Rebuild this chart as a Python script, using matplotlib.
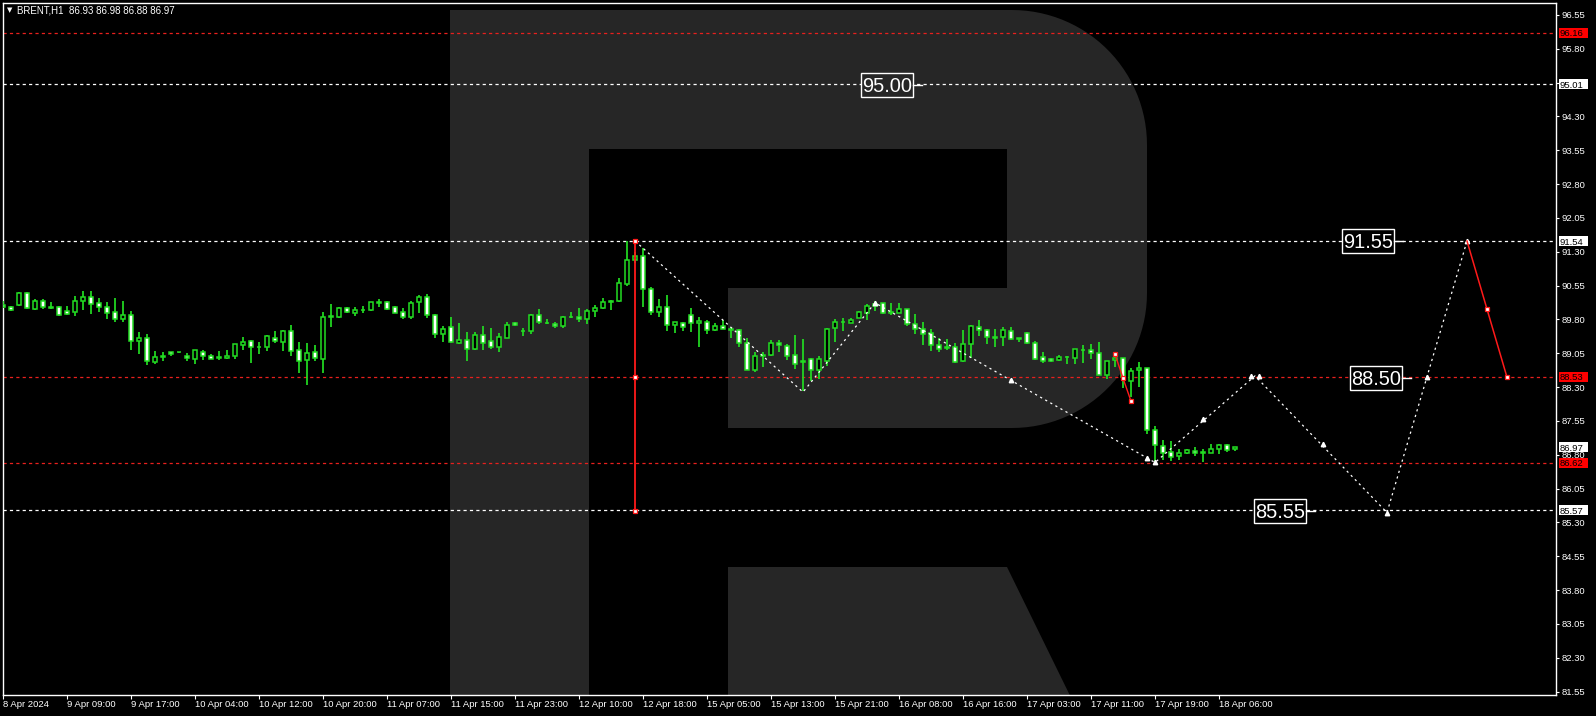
import numpy as np
import matplotlib
matplotlib.use('Agg')
import matplotlib.pyplot as plt
from matplotlib.patches import Rectangle, Polygon
from matplotlib.transforms import blended_transform_factory

plt.rcParams['font.family'] = ['Liberation Sans', 'DejaVu Sans']
plt.rcParams['lines.scale_dashes'] = False

# ---------------- data ----------------
title_symbol = "BRENT,H1"
title_ohlc = "86.93 86.98 86.88 86.97"

opens = [90.12, 90.07, 90.12, 90.38, 90.03, 90.20, 90.07, 90.07, 89.98, 89.97,
         90.22, 90.29, 90.16, 90.07, 89.96, 89.80, 89.89, 89.33, 89.40, 88.86,
         88.96, 89.07, 89.07, 89.00, 88.93, 89.09, 88.98, 88.96, 88.95, 88.98,
         89.24, 89.32, 89.20, 89.18, 89.40, 89.31, 89.54, 89.12, 88.90, 89.08,
         88.93, 89.86, 89.86, 90.05, 89.94, 90.01, 90.00, 90.18, 90.18, 90.07,
         89.97, 89.86, 90.18, 90.29, 89.91, 89.47, 89.63, 89.29, 89.34, 89.15,
         89.45, 89.32, 89.20, 89.40, 89.72, 89.54, 89.54, 89.91, 89.73, 89.69,
         89.66, 89.85, 89.86, 89.80, 89.98, 90.06, 90.19, 90.20, 90.59, 91.11,
         91.21, 90.47, 89.96, 90.07, 89.67, 89.72, 89.89, 89.72, 89.74, 89.56,
         89.65, 89.60, 89.56, 89.29, 88.69, 89.00, 89.01, 89.27, 89.21, 89.01,
         88.85, 88.92, 88.67, 88.89, 89.62, 89.74, 89.73, 89.84, 89.95, 90.10,
         90.16, 89.96, 89.95, 90.03, 89.69, 89.60, 89.49, 89.23, 89.18, 89.18,
         88.87, 89.25, 89.63, 89.56, 89.40, 89.41, 89.54, 89.37, 89.49, 89.27,
         88.96, 88.92, 88.91, 88.96, 88.95, 89.12, 89.12, 89.05, 88.58, 88.90,
         88.94, 88.44, 88.67, 88.72, 87.36, 87.00, 86.86, 86.77, 86.85, 86.88,
         86.85, 86.84, 86.94, 87.01, 86.93]
highs = [90.22, 90.10, 90.40, 90.40, 90.25, 90.25, 90.19, 90.10, 90.10, 90.32,
         90.43, 90.43, 90.28, 90.18, 90.28, 90.21, 89.98, 89.52, 89.47, 89.10,
         89.08, 89.08, 89.08, 89.05, 89.13, 89.12, 89.03, 89.10, 89.12, 89.26,
         89.41, 89.35, 89.30, 89.46, 89.54, 89.57, 89.68, 89.30, 89.28, 89.23,
         89.97, 90.14, 90.07, 90.08, 90.07, 90.10, 90.19, 90.25, 90.21, 90.11,
         90.05, 90.20, 90.35, 90.37, 89.92, 89.66, 89.86, 89.72, 89.52, 89.52,
         89.66, 89.61, 89.49, 89.75, 89.75, 89.62, 89.93, 90.03, 89.82, 89.75,
         89.88, 89.97, 90.05, 90.03, 90.12, 90.27, 90.24, 90.72, 91.54, 91.30,
         91.39, 90.51, 90.25, 90.34, 89.75, 89.75, 90.06, 89.86, 89.79, 89.72,
         89.79, 89.64, 89.58, 89.38, 89.07, 89.09, 89.35, 89.34, 89.26, 89.46,
         89.37, 88.95, 88.99, 89.61, 89.82, 89.83, 89.83, 89.99, 90.14, 90.20,
         90.17, 90.16, 90.16, 90.04, 89.92, 89.75, 89.58, 89.38, 89.36, 89.29,
         89.57, 89.67, 89.78, 89.59, 89.60, 89.63, 89.63, 89.40, 89.53, 89.33,
         89.08, 88.95, 89.01, 89.00, 89.15, 89.24, 89.25, 89.30, 88.88, 88.99,
         88.95, 88.72, 88.86, 88.73, 87.45, 87.13, 87.11, 86.94, 86.92, 86.97,
         86.94, 87.03, 87.04, 87.04, 86.98]
lows = [90.05, 89.98, 90.11, 90.03, 90.01, 90.04, 90.03, 89.88, 89.91, 89.88,
        90.00, 89.93, 89.97, 89.80, 89.75, 89.75, 89.12, 89.04, 88.80, 88.82,
        88.88, 89.00, 89.06, 88.89, 88.82, 88.90, 88.92, 88.90, 88.93, 88.93,
        89.12, 88.84, 89.04, 89.10, 89.29, 89.10, 88.98, 88.62, 88.35, 88.89,
        88.62, 89.64, 89.84, 89.95, 89.88, 89.94, 89.99, 90.08, 90.00, 89.94,
        89.80, 89.82, 89.95, 89.84, 89.38, 89.31, 89.29, 89.26, 88.87, 89.12,
        89.13, 89.15, 89.09, 89.38, 89.66, 89.44, 89.47, 89.71, 89.69, 89.62,
        89.62, 89.84, 89.75, 89.71, 89.86, 90.04, 90.01, 90.19, 90.55, 91.05,
        90.08, 89.91, 89.86, 89.55, 89.49, 89.55, 89.53, 89.18, 89.47, 89.54,
        89.58, 89.38, 89.18, 88.67, 88.64, 88.75, 89.00, 89.09, 88.90, 88.70,
        88.21, 88.43, 88.47, 88.77, 89.30, 89.55, 89.72, 89.83, 89.79, 89.99,
        89.92, 89.91, 89.94, 89.65, 89.48, 89.24, 89.11, 89.08, 89.13, 88.84,
        88.86, 88.95, 89.44, 89.26, 89.18, 89.22, 89.34, 89.31, 89.25, 88.90,
        88.84, 88.85, 88.87, 88.82, 88.81, 88.84, 88.92, 88.56, 88.48, 88.75,
        88.29, 88.09, 88.31, 87.27, 86.65, 86.69, 86.66, 86.69, 86.82, 86.78,
        86.64, 86.83, 86.82, 86.87, 86.88]
closes = [90.07, 90.00, 90.38, 90.06, 90.20, 90.07, 90.06, 89.91, 89.93, 90.20,
          90.29, 90.15, 90.07, 89.95, 89.80, 89.89, 89.33, 89.38, 88.87, 88.96,
          89.00, 89.03, 89.07, 88.94, 89.12, 88.98, 88.93, 88.94, 88.98, 89.25,
          89.30, 89.18, 89.19, 89.43, 89.33, 89.54, 89.11, 88.89, 89.05, 88.95,
          89.86, 89.88, 90.05, 89.97, 90.01, 90.02, 90.18, 90.17, 90.04, 89.95,
          89.85, 90.17, 90.29, 89.89, 89.47, 89.60, 89.31, 89.34, 89.14, 89.45,
          89.29, 89.20, 89.41, 89.67, 89.67, 89.55, 89.91, 89.74, 89.72, 89.65,
          89.85, 89.86, 89.80, 89.99, 90.06, 90.18, 90.20, 90.60, 91.11, 91.21,
          90.47, 89.96, 90.07, 89.67, 89.74, 89.63, 89.72, 89.77, 89.56, 89.65,
          89.60, 89.56, 89.29, 88.69, 88.98, 89.01, 89.29, 89.23, 88.98, 88.82,
          88.89, 88.67, 88.92, 89.60, 89.74, 89.75, 89.79, 89.97, 90.09, 90.14,
          89.94, 89.95, 90.03, 89.69, 89.58, 89.47, 89.23, 89.14, 89.17, 88.85,
          89.25, 89.65, 89.56, 89.41, 89.41, 89.56, 89.36, 89.38, 89.27, 88.93,
          88.87, 88.87, 88.97, 88.97, 89.14, 89.13, 89.05, 88.58, 88.87, 88.95,
          88.53, 88.66, 88.72, 87.36, 87.01, 86.85, 86.76, 86.83, 86.90, 86.83,
          86.86, 86.94, 87.01, 86.91, 86.97]

xtick_pos = [0, 8, 16, 24, 32, 40, 48, 56, 64, 72, 80, 88, 96, 104, 112, 120, 128, 136, 144, 152]
xtick_labels = ["8 Apr 2024", "9 Apr 09:00", "9 Apr 17:00", "10 Apr 04:00", "10 Apr 12:00",
                "10 Apr 20:00", "11 Apr 07:00", "11 Apr 15:00", "11 Apr 23:00", "12 Apr 10:00",
                "12 Apr 18:00", "15 Apr 05:00", "15 Apr 13:00", "15 Apr 21:00", "16 Apr 08:00",
                "16 Apr 16:00", "17 Apr 03:00", "17 Apr 11:00", "17 Apr 19:00", "18 Apr 06:00"]
ytick_values = [81.55, 82.30, 83.05, 83.80, 84.55, 85.30, 86.05, 86.80, 87.55, 88.30, 89.05,
                89.80, 90.55, 91.30, 92.05, 92.80, 93.55, 94.30, 95.05, 95.80, 96.55]

hline_prices = [96.16, 95.01, 91.54, 88.53, 86.62, 85.57]
hline_colors = ['#e8201e', 'white', 'white', '#e8201e', '#e8201e', 'white']

axis_box_prices = [96.16, 95.01, 91.54, 88.53, 86.97, 86.62, 85.57]
axis_box_colors = ['#ff0000', 'white', 'white', '#ff0000', 'white', '#ff0000', 'white']

forecast_x = [79, 100, 109, 144, 156.5, 173, 183]
forecast_y = [91.54, 88.19, 90.17, 86.63, 88.55, 85.52, 91.54]
forecast_mark_x = [109, 126, 143, 144, 150, 156, 157, 165, 173, 178, 183]
forecast_mark_y = [90.17, 88.46, 86.72, 86.63, 87.59, 88.55, 88.55, 87.03, 85.52, 88.52, 91.54]
red_fore_x = [183, 185.5, 188]
red_fore_y = [91.54, 90.03, 88.52]
red_mini_x = [139, 140, 141]
red_mini_y = [89.03, 88.50, 87.99]
red_vert_x = [79, 79, 79]
red_vert_y = [91.54, 88.53, 85.55]

label_texts = ['95.00', '91.55', '88.50', '85.55']
label_x = [110.5, 170.6, 171.6, 159.6]
label_y = [95.00, 91.54, 88.50, 85.55]
label_bg = ['#262626', 'black', 'black', 'black']

# ---------------- figure ----------------
W, H = 1596, 716
fig = plt.figure(figsize=(W / 100, H / 100), dpi=100, facecolor='black')
ax = fig.add_axes([3 / W, (H - 695) / H, 1553 / W, 692 / H])
ax.set_facecolor('black')
ax.set_xlim(0, 1553 / 8)
ax.set_ylim(81.476, 96.816)

GREEN = '#22dd22'
LOGO = '#262626'


def fp(x, y):
    return (x / W, 1 - y / H)


# logo watermark (figure pixel geometry)
r = 135
x0, y0, x1, y1 = 450, 10, 1147, 428
pts = [(x0, y0), (x1 - r, y0)]
for t in np.linspace(np.pi / 2, 0, 30):
    pts.append((x1 - r + r * np.cos(t), y0 + r - r * np.sin(t)))
pts.append((x1, y1 - r))
for t in np.linspace(0, -np.pi / 2, 30):
    pts.append((x1 - r + r * np.cos(t), y1 - r - r * np.sin(t)))
pts.append((x0, y1))
ax.add_patch(Polygon([fp(*p) for p in pts], closed=True, fc=LOGO, ec='none',
                     transform=fig.transFigure, zorder=0.5))
for (a, b, c, d) in [(589, 149, 1007, 288), (589, 287, 728, 429)]:
    ax.add_patch(Polygon([fp(a, b), fp(c, b), fp(c, d), fp(a, d)], closed=True,
                         fc='black', ec='none', transform=fig.transFigure, zorder=0.6))
ax.add_patch(Polygon([fp(450, 10), fp(589, 10), fp(589, 716), fp(450, 716)], closed=True,
                     fc=LOGO, ec='none', transform=fig.transFigure, zorder=0.7))
ax.add_patch(Polygon([fp(728, 567), fp(1007, 567), fp(1080, 716), fp(728, 716)], closed=True,
                     fc=LOGO, ec='none', transform=fig.transFigure, zorder=0.7))

# horizontal levels
for p, c in zip(hline_prices, hline_colors):
    ax.axhline(p, color=c, lw=0.9, ls=(0, (2.3, 2.3)), zorder=1)

# candles
O = np.array(opens); Hh = np.array(highs); L = np.array(lows); C = np.array(closes)
x = np.arange(len(O))
ax.vlines(x, L, Hh, color=GREEN, lw=1.25, zorder=3)
bottom = np.minimum(O, C)
height = np.maximum(np.abs(C - O), 0.004)
face = ['black' if c >= o else 'white' for o, c in zip(O, C)]
ax.bar(x, height, bottom=bottom, width=0.58, color=face, edgecolor=GREEN, linewidth=1.1, zorder=4)

# forecast zigzag
ax.plot(forecast_x, forecast_y, color='white', lw=0.9, ls=(0, (1.6, 2.6)), zorder=5)
ax.plot(forecast_mark_x, forecast_mark_y, ls='none', marker='^', ms=3.2, color='white',
        mec='white', zorder=5)
ax.plot(red_fore_x, red_fore_y, color='#ff1a1a', lw=1.1, zorder=5)
ax.plot(red_fore_x[1:], red_fore_y[1:], ls='none', marker='s', ms=3.0, mfc='white',
        mec='#ff1a1a', mew=0.9, zorder=6)
ax.plot(red_mini_x, red_mini_y, color='#ff1a1a', lw=1.0, zorder=5)
ax.plot(red_mini_x, red_mini_y, ls='none', marker='s', ms=3.0, mfc='white',
        mec='#ff1a1a', mew=0.9, zorder=6)
ax.plot(red_vert_x, red_vert_y, color='#ff1a1a', lw=1.3, zorder=5)
ax.plot(red_vert_x, red_vert_y, ls='none', marker='s', ms=3.0, mfc='white',
        mec='#ff1a1a', mew=0.9, zorder=6)

# boxed level labels
bw, bh = 52 / 8, 24 / 45.11
for t, lx, ly, bg in zip(label_texts, label_x, label_y, label_bg):
    ax.add_patch(Rectangle((lx - bw / 2, ly - bh / 2), bw, bh, fc=bg, ec='white', lw=1.0, zorder=7))
    ax.text(lx, ly - 0.158, t, ha='center', va='baseline', fontsize=14.4, color='white', zorder=8)
    ax.plot([lx + bw / 2, lx + bw / 2 + 1.1], [ly, ly], color='white', lw=1.0, zorder=7)

# axes styling
for s in ax.spines.values():
    s.set_color('white')
    s.set_linewidth(1.0)
ax.set_xticks(xtick_pos)
ax.set_xticklabels(xtick_labels)
for lab in ax.get_xticklabels():
    lab.set_horizontalalignment('left')
ax.tick_params(axis='x', colors='white', length=3, width=0.8, pad=0.6, labelsize=6.8)
ax.yaxis.tick_right()
ax.set_yticks(ytick_values)
ax.set_yticklabels([f'{v:.2f}' for v in ytick_values])
ax.tick_params(axis='y', colors='white', length=2.2, width=0.8, pad=1.6, labelsize=6.8)

# price boxes on the right axis
trans = blended_transform_factory(ax.transAxes, ax.transData)
for p, c in zip(axis_box_prices, axis_box_colors):
    ax.add_patch(Rectangle((1.0017, p - 0.111), 0.01867, 0.222, transform=trans,
                           fc=c, ec='none', clip_on=False, zorder=10))
    ax.text(1.0023, p, f'{p:.2f}', transform=trans, ha='left', va='center_baseline',
            fontsize=6.8, color='black', clip_on=False, zorder=11)

# title
fig.text(7 / W, 1 - 10.5 / H, '\u25BC', fontsize=5, color='white', va='center',
         family=['DejaVu Sans'])
fig.text(17 / W, 1 - 10.5 / H, f'{title_symbol}  {title_ohlc}', fontsize=7.0,
         color='white', va='center')

fig.savefig('out.png', dpi=100, facecolor='black')
